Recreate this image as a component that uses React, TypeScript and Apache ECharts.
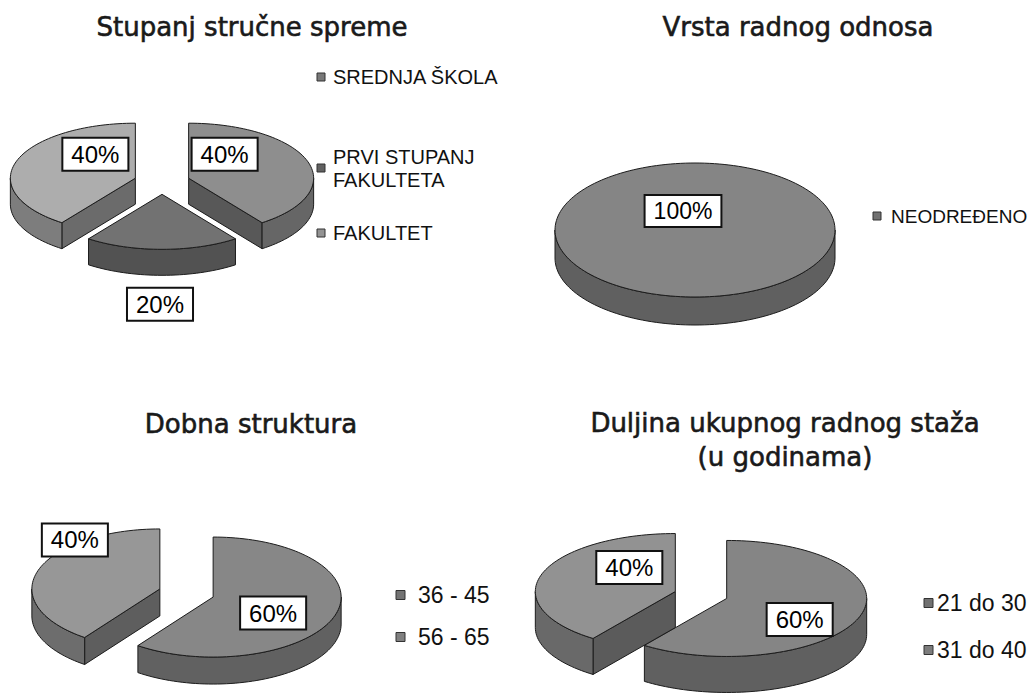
import React, { useEffect, useRef } from "react";
import * as echarts from "echarts";

// ---- data ----
const titles = [
  "Stupanj stručne spreme",
  "Vrsta radnog odnosa",
  "Dobna struktura",
  "Duljina ukupnog radnog staža\n(u godinama)",
];

const educationCategories = ["SREDNJA ŠKOLA", "PRVI STUPANJ FAKULTETA", "FAKULTET"];
const educationValues = [40, 20, 40];

const employmentCategories = ["NEODREĐENO"];
const employmentValues = [100];

const ageCategories = ["36 - 45", "56 - 65"];
const ageValues = [60, 40];

const tenureCategories = ["21 do 30", "31 do 40"];
const tenureValues = [60, 40];

// ---- layout / style ----
const FONT = "'Liberation Sans', Arial, Helvetica, sans-serif";
const TITLE_FONT = "'DejaVu Sans', Verdana, sans-serif";

type PieLayout = {
  cx: number; cy: number; rx: number; ry: number; depth: number; explode: number;
  colors: string[];
  labelOffsets: [number, number][];
  labelFont: number;
  title: [number, number];
  legendMarkerX: number; legendTextX: number; legendYs: number[]; legendFont: number;
  legendWidth?: number; markerSize: number;
};

const layouts: PieLayout[] = [
  {
    cx: 162, cy: 182, rx: 125, ry: 55, depth: 26, explode: 28,
    colors: ["#8e8e8e", "#727272", "#adadad"],
    labelOffsets: [[36, -24], [-2, 110], [-40, -24]],
    labelFont: 24,
    title: [252, 27],
    legendMarkerX: 317, legendTextX: 333, legendYs: [77, 168, 233], legendFont: 20,
    legendWidth: 180, markerSize: 8,
  },
  {
    cx: 695, cy: 230, rx: 140, ry: 67, depth: 28, explode: 0,
    colors: ["#858585"],
    labelOffsets: [[-12, -19]],
    labelFont: 23,
    title: [798, 27],
    legendMarkerX: 873, legendTextX: 891, legendYs: [216], legendFont: 19, markerSize: 8,
  },
  {
    cx: 186.5, cy: 593, rx: 128, ry: 60, depth: 27, explode: 28,
    colors: ["#878787", "#979797"],
    labelOffsets: [[60, 16], [-85, -49]],
    labelFont: 24,
    title: [251, 424],
    legendMarkerX: 396, legendTextX: 418, legendYs: [595, 637], legendFont: 23, markerSize: 9,
  },
  {
    cx: 701, cy: 595, rx: 140, ry: 58, depth: 36, explode: 27,
    colors: ["#858585", "#929292"],
    labelOffsets: [[73, 21], [-46, -24]],
    labelFont: 24,
    title: [785, 440],
    legendMarkerX: 924, legendTextX: 937, legendYs: [603, 650], legendFont: 23, markerSize: 9,
  },
];

function shade(hex: string, f: number) {
  const n = parseInt(hex.slice(1), 16);
  const r = Math.round(((n >> 16) & 255) * f);
  const g = Math.round(((n >> 8) & 255) * f);
  const b = Math.round((n & 255) * f);
  return `rgb(${r},${g},${b})`;
}

function makePie(values: number[], L: PieLayout) {
  const total = values.reduce((a, b) => a + b, 0);
  return {
    type: "custom",
    coordinateSystem: "none",
    silent: true,
    data: values,
    renderItem: (params: any, api: any) => {
      const i = params.dataIndex;
      const v = api.value(0) as number;
      let before = 0;
      for (let k = 0; k < i; k++) before += values[k];
      const a0 = (before / total) * 360;
      const a1 = ((before + v) / total) * 360;
      const full = v >= total;
      const midR = ((a0 + a1) / 2) * Math.PI / 180;
      const ex = full ? 0 : L.explode;
      const vx = L.cx + Math.sin(midR) * ex;
      const vy = L.cy - Math.cos(midR) * ex * (L.ry / L.rx);
      const d = L.depth;
      const pt = (deg: number, dy = 0) => {
        const r = (deg * Math.PI) / 180;
        return [vx + L.rx * Math.sin(r), vy - L.ry * Math.cos(r) + dy];
      };
      const arc = (s: number, e: number, dy = 0) => {
        const n = Math.max(2, Math.ceil((e - s) / 2));
        const out: number[][] = [];
        for (let k = 0; k <= n; k++) out.push(pt(s + ((e - s) * k) / n, dy));
        return out;
      };
      const col = L.colors[i % L.colors.length];
      const stroke = "#1c1c1c";
      const children: any[] = [];
      const sinD = (deg: number) => Math.sin((deg * Math.PI) / 180);
      if (!full && sinD(a0) < -1e-6) {
        children.push({
          type: "polygon",
          shape: { points: [[vx, vy], pt(a0), pt(a0, d), [vx, vy + d]] },
          style: { fill: shade(col, 0.62), stroke, lineWidth: 1 },
        });
      }
      if (!full && sinD(a1) > 1e-6) {
        children.push({
          type: "polygon",
          shape: { points: [[vx, vy], pt(a1), pt(a1, d), [vx, vy + d]] },
          style: { fill: shade(col, 0.62), stroke, lineWidth: 1 },
        });
      }
      const s = Math.max(a0, 90);
      const e = Math.min(a1, 270);
      if (e > s) {
        children.push({
          type: "polygon",
          shape: { points: [...arc(s, e), ...arc(s, e, d).reverse()] },
          style: { fill: shade(col, 0.72), stroke, lineWidth: 1 },
        });
      }
      children.push({
        type: "polygon",
        shape: { points: full ? arc(0, 360) : [[vx, vy], ...arc(a0, a1)] },
        style: { fill: col, stroke, lineWidth: 1 },
      });
      const off = L.labelOffsets[i];
      children.push({
        type: "text",
        x: vx + off[0],
        y: vy + off[1],
        z2: 100,
        style: {
          text: `${Math.round((v / total) * 100)}%`,
          fill: "#000",
          fontSize: L.labelFont,
          fontFamily: FONT,
          align: "center",
          verticalAlign: "middle",
          backgroundColor: "#ffffff",
          borderColor: "#111",
          borderWidth: 2,
          padding: [4, 8, 3, 8],
        },
      });
      return { type: "group", children };
    },
  };
}

function makeLegend(categories: string[], L: PieLayout) {
  const els: any[] = [];
  categories.forEach((name, i) => {
    const y = L.legendYs[i];
    const m = L.markerSize;
    els.push({
      type: "rect",
      shape: { x: L.legendMarkerX, y: y - m / 2, width: m, height: m },
      style: { fill: shade(L.colors[i], 0.85), stroke: "#333", lineWidth: 1 },
    });
    const st: any = {
      text: name,
      fill: "#111",
      fontSize: L.legendFont,
      fontFamily: FONT,
      align: "left",
      verticalAlign: "middle",
      lineHeight: 23,
    };
    if (L.legendWidth) {
      st.width = L.legendWidth;
      st.overflow = "break";
    }
    els.push({ type: "text", x: L.legendTextX, y, style: st });
  });
  return els;
}

const allCategories = [educationCategories, employmentCategories, ageCategories, tenureCategories];
const allValues = [educationValues, employmentValues, ageValues, tenureValues];

export default function App() {
  const ref = useRef<HTMLDivElement>(null);
  useEffect(() => {
    if (!ref.current) return;
    const chart = echarts.init(ref.current, undefined, { renderer: "svg" });
    const graphic: any[] = [];
    titles.forEach((t, k) => {
      graphic.push({
        type: "text",
        x: layouts[k].title[0],
        y: layouts[k].title[1],
        style: {
          text: t,
          fill: "#1a1a1a",
          stroke: "#1a1a1a",
          lineWidth: 0.6,
          fontSize: 26,
          fontFamily: TITLE_FONT,
          align: "center",
          verticalAlign: "middle",
          lineHeight: 34,
        },
      });
    });
    allCategories.forEach((cats, k) => graphic.push(...makeLegend(cats, layouts[k])));
    chart.setOption({
      animation: false,
      backgroundColor: "#ffffff",
      graphic,
      series: allValues.map((vals, k) => makePie(vals, layouts[k])),
    });
    return () => chart.dispose();
  }, []);
  return (
    <div
      ref={ref}
      style={{ position: "absolute", left: 0, top: 0, width: 1036, height: 700 }}
    />
  );
}
